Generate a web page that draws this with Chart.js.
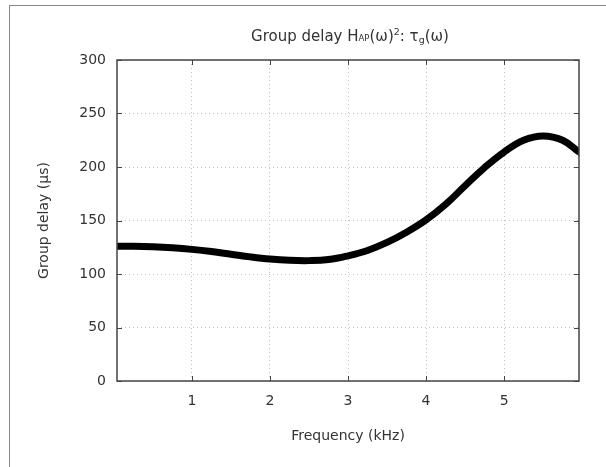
<!DOCTYPE html>
<html>
<head>
<meta charset="utf-8">
<script src="https://cdn.jsdelivr.net/npm/chart.js@4.4.1/dist/chart.umd.min.js"></script>
<style>
  html, body { margin: 0; padding: 0; background: #fff; }
  #wrap { width: 606px; height: 467px; position: relative; }
</style>
</head>
<body>
<div id="wrap"><canvas id="delayChart" width="606" height="467"></canvas></div>
<script>
// frequency samples (kHz) and group delay (µs)
const freqKHz = [0.04, 0.25, 0.5, 0.75, 1.0, 1.25, 1.5, 1.75, 2.0, 2.25, 2.5, 2.75, 3.0, 3.25, 3.5, 3.75, 4.0, 4.25, 4.5, 4.75, 5.0, 5.25, 5.5, 5.75, 5.96];
const delayUs = [126, 126, 125.5, 124.5, 123, 121, 118.5, 116, 114, 112.8, 112.5, 113.5, 117, 122, 129.5, 139, 150.5, 165, 182.5, 199.5, 214, 225, 229, 225, 214];
const xTicks = [1, 2, 3, 4, 5];
const yTicks = [0, 50, 100, 150, 200, 250, 300];

const FONT = '"DejaVu Sans", sans-serif';
const TXT = '#333';

// outer frame, inward tick marks, plot border and the mixed-size title
const decor = {
  id: 'decor',
  beforeDraw(chart) {
    const c = chart.ctx;
    c.save();
    c.strokeStyle = '#888';
    c.lineWidth = 1;
    c.strokeRect(9.5, 5.5, 700, 600);
    c.restore();
  },
  afterDatasetsDraw(chart) {
    const c = chart.ctx, a = chart.chartArea;
    const xs = chart.scales.x, ys = chart.scales.y;
    c.save();
    c.strokeStyle = '#444';
    c.lineWidth = 1;
    xTicks.forEach(v => {
      const px = Math.round(xs.getPixelForValue(v)) + 0.5;
      c.beginPath();
      c.moveTo(px, a.bottom); c.lineTo(px, a.bottom - 5);
      c.moveTo(px, a.top); c.lineTo(px, a.top + 5);
      c.stroke();
    });
    yTicks.forEach(v => {
      const py = Math.round(ys.getPixelForValue(v)) + 0.5;
      c.beginPath();
      c.moveTo(a.left, py); c.lineTo(a.left + 5, py);
      c.moveTo(a.right, py); c.lineTo(a.right - 5, py);
      c.stroke();
    });
    c.lineWidth = 1.5;
    c.strokeRect(a.left, a.top, a.right - a.left, a.bottom - a.top);

    // title: Group delay H_AP(ω)²: τ_g(ω)
    const parts = [
      { t: 'Group delay H', s: 15, dy: 0 },
      { t: 'AP', s: 8.5, dy: 0 },
      { t: '(ω)', s: 15, dy: 0 },
      { t: '2', s: 9.5, dy: -6 },
      { t: ': τ', s: 15, dy: 0 },
      { t: 'g', s: 9.5, dy: 2 },
      { t: '(ω)', s: 15, dy: 0 }
    ];
    let w = 0;
    parts.forEach(p => { c.font = p.s + 'px ' + FONT; p.w = c.measureText(p.t).width; w += p.w; });
    let x = 350 - w / 2;
    c.fillStyle = TXT;
    c.textBaseline = 'alphabetic';
    c.textAlign = 'left';
    parts.forEach(p => {
      c.font = p.s + 'px ' + FONT;
      c.fillText(p.t, x, 41 + p.dy);
      x += p.w;
    });
    c.restore();
  }
};

new Chart(document.getElementById('delayChart'), {
  type: 'line',
  data: {
    datasets: [{
      data: freqKHz.map((f, i) => ({ x: f, y: delayUs[i] })),
      borderColor: '#000',
      borderWidth: 7,
      borderCapStyle: 'round',
      borderJoinStyle: 'round',
      pointRadius: 0,
      tension: 0.4,
      fill: false
    }]
  },
  options: {
    responsive: false,
    animation: false,
    devicePixelRatio: 1,
    layout: { padding: { top: 60, right: 27, left: 0, bottom: 0 } },
    plugins: { legend: { display: false }, title: { display: false }, tooltip: { enabled: false } },
    scales: {
      x: {
        type: 'linear',
        min: 0.04,
        max: 5.96,
        afterBuildTicks: s => { s.ticks = xTicks.map(v => ({ value: v })); },
        afterFit: s => { s.height = 86; },
        border: { display: false, dash: [1, 3] },
        grid: { color: '#c4c4c4', drawTicks: false, lineWidth: 1 },
        ticks: { color: TXT, font: { family: FONT, size: 14 }, padding: 12, maxRotation: 0 },
        title: { display: true, text: 'Frequency (kHz)', color: TXT, font: { family: FONT, size: 14 }, padding: { bottom: 22 } }
      },
      y: {
        type: 'linear',
        min: 0,
        max: 300,
        afterBuildTicks: s => { s.ticks = yTicks.map(v => ({ value: v })); },
        afterFit: s => { s.width = 117; },
        border: { display: false, dash: [1, 3] },
        grid: { color: '#c4c4c4', drawTicks: false, lineWidth: 1 },
        ticks: { color: TXT, font: { family: FONT, size: 14 }, padding: 11 },
        title: { display: true, text: 'Group delay (μs)', color: TXT, font: { family: FONT, size: 14 }, padding: { top: 36 } }
      }
    }
  },
  plugins: [decor]
});
</script>
</body>
</html>
